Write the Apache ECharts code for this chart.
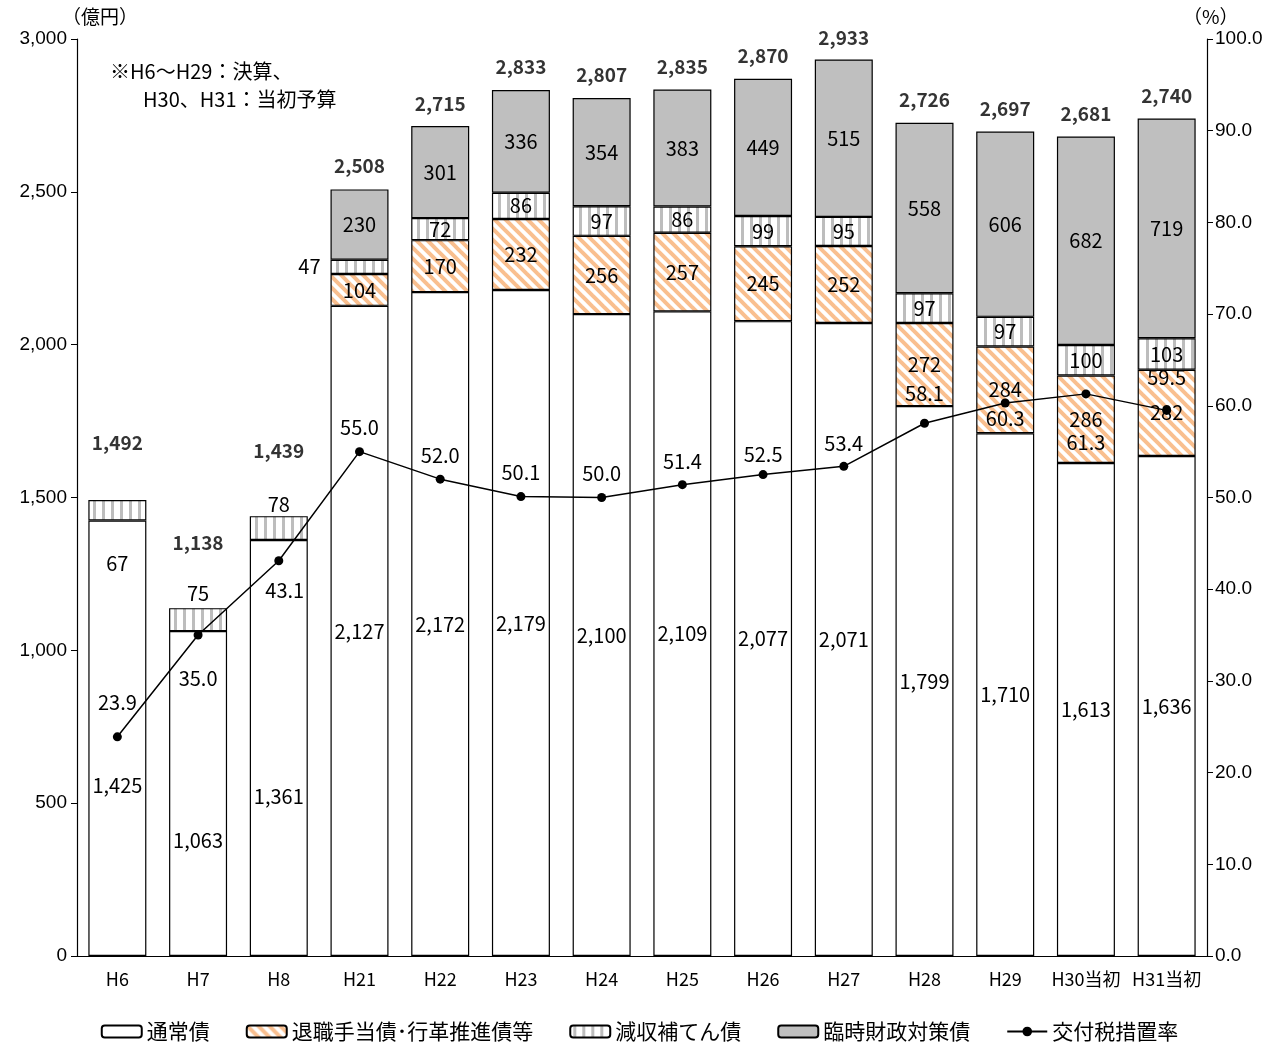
<!DOCTYPE html>
<html>
<head>
<meta charset="utf-8">
<script src="https://cdn.jsdelivr.net/npm/echarts@6/dist/echarts.min.js"></script>
<style>
  html, body { margin: 0; padding: 0; background: #fff; }
  #main { width: 1279px; height: 1047px; }
</style>
</head>
<body>
<div id="main"></div>
<script>
// categories and values
const years = ["H6", "H7", "H8", "H21", "H22", "H23", "H24", "H25", "H26", "H27", "H28", "H29", "H30当初", "H31当初"];
const tsujoBonds = [1425, 1063, 1361, 2127, 2172, 2179, 2100, 2109, 2077, 2071, 1799, 1710, 1613, 1636];
const taishokuBonds = [null, null, null, 104, 170, 232, 256, 257, 245, 252, 272, 284, 286, 282];
const genshuBonds = [67, 75, 78, 47, 72, 86, 97, 86, 99, 95, 97, 97, 100, 103];
const rinjiBonds = [null, null, null, 230, 301, 336, 354, 383, 449, 515, 558, 606, 682, 719];
const totals = [1492, 1138, 1439, 2508, 2715, 2833, 2807, 2835, 2870, 2933, 2726, 2697, 2681, 2740];
const kofuRate = [23.9, 35.0, 43.1, 55.0, 52.0, 50.1, 50.0, 51.4, 52.5, 53.4, 58.1, 60.3, 61.3, 59.5];

// label nudges (pixels), layout only
const tsujoLabelDy = [47, 47, 48, 0, 0, 0, 0, 0, 0, 0, 0, 0, 0, 0];
const genshuLabelDy = [53, -26, -24, 0, 0, 0, 0, 0, 0, 0, 0, 0, 0, 0];
const totalLabelDy = [-57, -65, -65, -24, -22, -23, -23, -23, -23, -22, -23, -23, -23, -23];
const rateLabelDy = [-34, 43, 30, -24, -24, -24, -24, -23, -20, -23, -30, 15, 49, -33];
const rateLabelDx = [0, 0, 6, 0, 0, 0, 0, 0, 0, 0, 0, 0, 0, 0];

const FONT = "'Noto Sans CJK JP', 'Noto Sans', sans-serif";

function diagPattern() {
  const s = 11;
  const c = document.createElement("canvas");
  c.width = s; c.height = s;
  const g = c.getContext("2d");
  g.fillStyle = "#fff";
  g.fillRect(0, 0, s, s);
  g.strokeStyle = "#f9bf8f";
  g.lineWidth = 4;
  for (let k = -1; k <= 1; k++) {
    g.beginPath();
    g.moveTo(-2, -2 + k * s);
    g.lineTo(s + 2, s + 2 + k * s);
    g.stroke();
  }
  return { image: c, repeat: "repeat" };
}

function vertPattern() {
  const c = document.createElement("canvas");
  c.width = 9; c.height = 4;
  const g = c.getContext("2d");
  g.fillStyle = "#fff";
  g.fillRect(0, 0, 9, 4);
  g.fillStyle = "#bdbdbd";
  g.fillRect(3, 0, 3, 4);
  return { image: c, repeat: "repeat" };
}

const border = { borderColor: "#000", borderWidth: 1.2 };
const labelFont = { fontFamily: FONT, fontSize: 20, color: "#000" };

const chart = echarts.init(document.getElementById("main"));

const option = {
  animation: false,
  backgroundColor: "#fff",
  grid: { left: 77, right: 72, top: 39, bottom: 91 },
  legend: {
    bottom: 0,
    left: "center",
    itemWidth: 40,
    itemHeight: 12,
    itemGap: 36,
    data: ["通常債", "退職手当債･行革推進債等", "減収補てん債", "臨時財政対策債", "交付税措置率"],
    textStyle: { fontFamily: FONT, fontSize: 21, color: "#000" }
  },
  xAxis: {
    type: "category",
    data: years,
    axisLine: { lineStyle: { color: "#000", width: 1.2 } },
    axisTick: { show: false },
    axisLabel: { interval: 0, hideOverlap: false, fontFamily: FONT, fontSize: 18, color: "#000", margin: 14 }
  },
  yAxis: [
    {
      type: "value",
      min: 0, max: 3000, interval: 500,
      splitLine: { show: false },
      axisLine: { show: true, lineStyle: { color: "#000", width: 1.2 } },
      axisTick: { show: true, inside: false, length: 6, lineStyle: { color: "#000" } },
      axisLabel: {
        fontFamily: "'Liberation Sans', Arial, sans-serif", fontSize: 19, color: "#000", margin: 10,
        formatter: v => v.toLocaleString("en-US")
      }
    },
    {
      type: "value",
      min: 0, max: 100, interval: 10,
      splitLine: { show: false },
      axisLine: { show: true, lineStyle: { color: "#000", width: 1.2 } },
      axisTick: { show: true, inside: false, length: 6, lineStyle: { color: "#000" } },
      axisLabel: {
        fontFamily: "'Liberation Sans', Arial, sans-serif", fontSize: 19, color: "#000", margin: 8,
        formatter: v => v.toFixed(1)
      }
    }
  ],
  graphic: [
    { type: "text", left: 62, top: 7, style: { text: "（億円）", font: "19px " + FONT, fill: "#000" } },
    { type: "text", left: 1183, top: 7, style: { text: "（%）", font: "19px " + FONT, fill: "#000" } },
    { type: "text", left: 110, top: 61, style: { text: "※H6～H29：決算、", font: "20px " + FONT, fill: "#000" } },
    { type: "text", left: 143, top: 89, style: { text: "H30、H31：当初予算", font: "20px " + FONT, fill: "#000" } }
  ],
  series: [
    {
      name: "通常債", type: "bar", stack: "debt", barWidth: 58,
      itemStyle: Object.assign({ color: "#fff" }, border),
      label: Object.assign({ show: true, position: "inside", formatter: p => p.value.toLocaleString("en-US") }, labelFont),
      data: tsujoBonds.map((v, i) => ({ value: v, label: { offset: [0, tsujoLabelDy[i]] } }))
    },
    {
      name: "退職手当債･行革推進債等", type: "bar", stack: "debt", barWidth: 58,
      itemStyle: Object.assign({ color: diagPattern() }, border),
      label: Object.assign({ show: true, position: "inside" }, labelFont),
      data: taishokuBonds.map(v => (v == null ? "-" : v))
    },
    {
      name: "減収補てん債", type: "bar", stack: "debt", barWidth: 58,
      itemStyle: Object.assign({ color: vertPattern() }, border),
      label: Object.assign({ show: true, position: "inside" }, labelFont),
      data: genshuBonds.map((v, i) => {
        if (i === 3) return { value: v, label: { position: "left", distance: 10 } };
        return { value: v, label: { offset: [0, genshuLabelDy[i]] } };
      })
    },
    {
      name: "臨時財政対策債", type: "bar", stack: "debt", barWidth: 58,
      itemStyle: Object.assign({ color: "#bfbfbf" }, border),
      label: Object.assign({ show: true, position: "inside" }, labelFont),
      data: rinjiBonds.map(v => (v == null ? "-" : v))
    },
    {
      name: "合計", type: "scatter", symbolSize: 0, silent: true,
      label: {
        show: true, position: "inside", fontFamily: FONT, fontSize: 19, fontWeight: "bold", color: "#000",
        formatter: p => p.value.toLocaleString("en-US")
      },
      data: totals.map((v, i) => ({ value: v, label: { offset: [0, totalLabelDy[i]] } })),
      z: 5
    },
    {
      name: "交付税措置率", type: "line", yAxisIndex: 1,
      symbol: "circle", symbolSize: 9,
      lineStyle: { color: "#000", width: 1.5 },
      itemStyle: { color: "#000" },
      label: Object.assign({ show: true, position: "inside", formatter: p => p.value.toFixed(1) }, labelFont),
      data: kofuRate.map((v, i) => ({ value: v, label: { offset: [rateLabelDx[i], rateLabelDy[i]] } })),
      z: 10
    }
  ]
};

chart.setOption(option);
</script>
</body>
</html>
